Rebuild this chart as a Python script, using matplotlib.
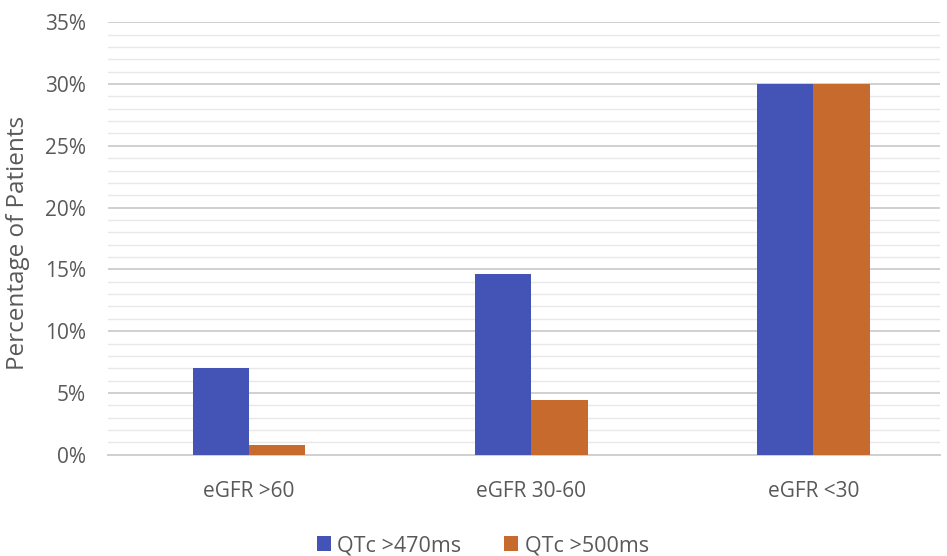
import matplotlib.pyplot as plt
import numpy as np
from matplotlib.ticker import MultipleLocator, PercentFormatter

plt.rcParams['font.family'] = ['Open Sans', 'DejaVu Sans']

groups = ['eGFR >60', 'eGFR 30-60', 'eGFR <30']
qtc_470 = [7.0, 14.6, 30.0]
qtc_500 = [0.8, 4.4, 30.0]
series_names = ['QTc >470ms', 'QTc >500ms']

blue = '#4454B6'
orange = '#C66B2D'
text_col = '#595959'

fig = plt.figure(figsize=(9.47, 5.56), dpi=100)
ax = fig.add_axes([0.114, 0.182, 0.879, 0.778])

x = np.arange(len(groups))
w = 0.2
ax.bar(x - w / 2, qtc_470, w, color=blue, label=series_names[0], zorder=3)
ax.bar(x + w / 2, qtc_500, w, color=orange, label=series_names[1], zorder=3)

ax.set_ylim(0, 35)
ax.set_xlim(-0.5, 2.45)
ax.yaxis.set_major_locator(MultipleLocator(5))
ax.yaxis.set_minor_locator(MultipleLocator(1))
ax.yaxis.set_major_formatter(PercentFormatter(decimals=0))
ax.grid(axis='y', which='major', color='#d0d0d0', linewidth=1.4, zorder=0)
ax.grid(axis='y', which='minor', color='#e8e8e8', linewidth=1.0, zorder=0)

ax.set_xticks(x)
ax.set_xticklabels(groups)
ax.tick_params(axis='both', which='both', length=0, colors=text_col, labelsize=15)
ax.tick_params(axis='x', pad=19)
ax.tick_params(axis='y', pad=16)

for s in ['top', 'right', 'left']:
    ax.spines[s].set_visible(False)
ax.spines['bottom'].set_color('#d0d0d0')
ax.spines['bottom'].set_linewidth(1.4)

ax.set_ylabel('Percentage of Patients', color=text_col, fontsize=17.5)
ax.yaxis.set_label_coords(-0.094, 0.49)

fig.legend(loc='lower center', bbox_to_anchor=(0.51, -0.035), ncol=2, frameon=False,
           fontsize=15.5, labelcolor=text_col, handlelength=0.65, handleheight=0.65,
           handletextpad=0.3, columnspacing=2.0)

fig.savefig('out.png', dpi=100)
